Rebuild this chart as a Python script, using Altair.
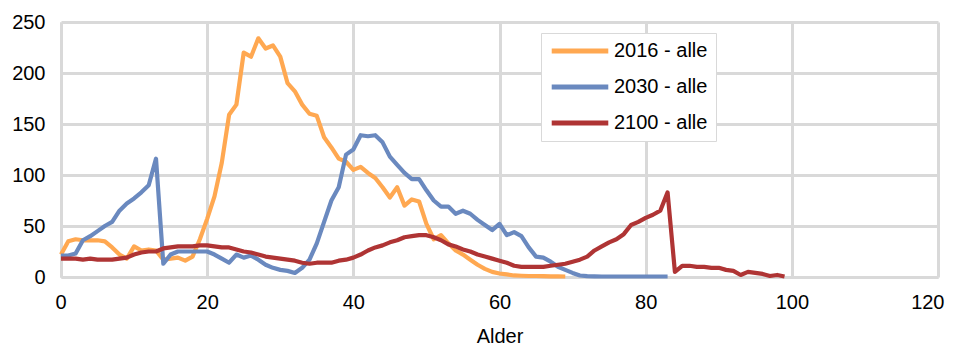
import altair as alt
import pandas as pd

# Values (age 0..N)
orange_2016 = [22, 35, 37, 36, 36, 36, 35, 29, 22, 18,
               30, 26, 27, 26, 17, 18, 19, 16, 20, 37,
               57, 79, 112, 159, 169, 220, 216, 234, 224, 227,
               216, 190, 182, 169, 160, 158, 137, 127, 116, 113,
               105, 108, 102, 97, 88, 78, 88, 70, 76, 74,
               52, 37, 41, 33, 26, 22, 17, 12, 8, 5,
               3.4, 2.5, 1.5, 1.2, 1, 1, 0.8, 0.7, 0.6, 0.5]

blue_2030 = [21, 21, 23, 36, 40, 45, 50, 54, 65, 72,
             77, 83, 90, 116, 13, 22, 25, 25, 25, 25,
             25, 22, 18, 14, 22, 19, 21, 17, 12, 9,
             7, 6, 4, 9, 17, 33, 54, 75, 88, 120,
             125, 139, 138, 139, 132, 118, 110, 102, 96, 96,
             85, 75, 69, 69, 62, 65, 62, 56, 51, 46,
             52, 41, 44, 40, 29, 20, 19, 15, 10, 7,
             4, 1.5, 0.8, 0.6, 0.5, 0.5, 0.5, 0.5, 0.5, 0.5,
             0.5, 0.5, 0.5, 0.5]

red_2100 = [18, 18, 18, 17, 18, 17, 17, 17, 18, 19,
            22, 24, 25, 25, 28, 29, 30, 30, 30, 31,
            31, 30, 29, 29, 27, 25, 24, 22, 20, 19,
            18, 17, 16, 14, 13, 14, 14, 14, 16, 17,
            19, 22, 26, 29, 31, 34, 36, 39, 40, 41,
            41, 39, 36, 32, 30, 27, 25, 22, 20, 18,
            16, 14, 11, 10, 10, 10, 10, 11, 12, 13,
            15, 17, 20, 26, 30, 34, 37, 42, 51, 54,
            58, 61, 65, 83, 5, 11, 11, 10, 10, 9,
            9, 7, 6, 2, 5, 4, 3, 1, 2, 0.5]

series_names = ["2016 - alle", "2030 - alle", "2100 - alle"]
series_colors = ["#FFA851", "#6A89BF", "#AF3434"]
x_ticks = [0, 20, 40, 60, 80, 100, 120]
y_ticks = [0, 50, 100, 150, 200, 250]

rows = []
for name, vals in zip(series_names, [orange_2016, blue_2030, red_2100]):
    for age, v in enumerate(vals):
        rows.append({"Alder": age, "value": v, "serie": name})
df = pd.DataFrame(rows)

FONT = "Liberation Sans"

chart = alt.Chart(df).mark_line(strokeWidth=4.2, strokeJoin="round").encode(
    x=alt.X("Alder:Q",
            scale=alt.Scale(domain=[0, 120], nice=False),
            axis=alt.Axis(values=x_ticks, title="Alder", grid=True,
                          gridColor="#d9d9d9", gridWidth=3,
                          domainColor="#d9d9d9", domainWidth=3,
                          ticks=False, tickSize=0,
                          labelFlush=True, labelFlushOffset=6,
                          labelFont=FONT, labelFontSize=20, labelColor="#000000",
                          labelPadding=15, titleFont=FONT, titleFontSize=20,
                          titleFontWeight="normal", titleColor="#000000",
                          titlePadding=14)),
    y=alt.Y("value:Q",
            scale=alt.Scale(domain=[0, 250], nice=False),
            axis=alt.Axis(values=y_ticks, title=None, grid=True,
                          gridColor="#d9d9d9", gridWidth=3,
                          domainColor="#d9d9d9", domainWidth=3,
                          ticks=False, tickSize=0,
                          labelFont=FONT, labelFontSize=20, labelColor="#000000",
                          labelPadding=16)),
    color=alt.Color("serie:N",
                    scale=alt.Scale(domain=series_names, range=series_colors),
                    legend=alt.Legend(title=None, orient="none",
                                      legendX=480, legendY=11,
                                      symbolType="stroke", symbolSize=3200,
                                      symbolStrokeWidth=5, clipHeight=20,
                                      rowPadding=16, labelOffset=3,
                                      labelFont=FONT, labelFontSize=20,
                                      labelColor="#000000", padding=8,
                                      strokeColor="#d9d9d9", fillColor="#ffffff")),
).properties(
    width=877, height=255,
    autosize=alt.AutoSizeParams(type="none"),
    padding={"left": 53, "top": 14, "right": 9, "bottom": 70},
    background="#ffffff",
).configure_view(strokeWidth=0)

chart.save("out.html", embed_options={"renderer": "svg", "actions": False})
